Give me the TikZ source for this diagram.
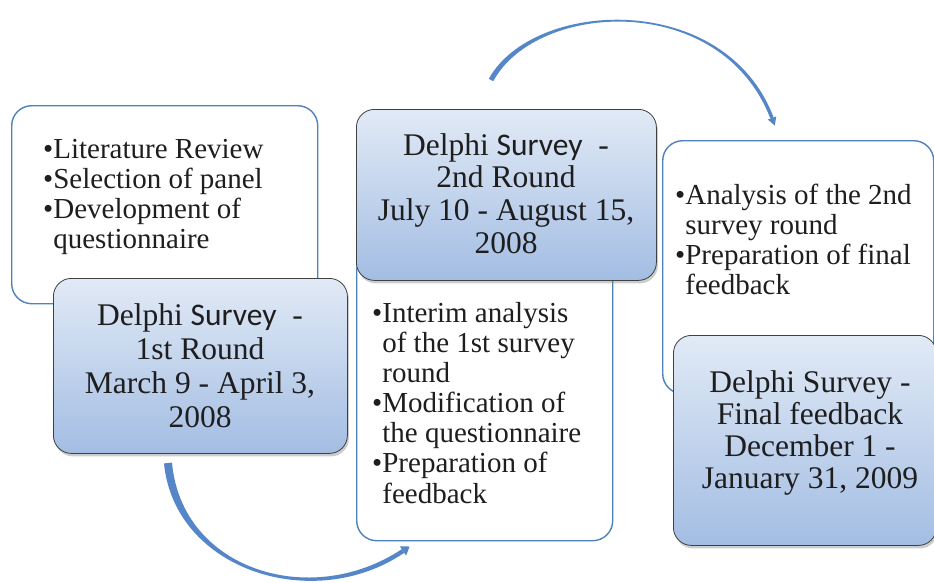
\documentclass[tikz,border=0pt]{standalone}
\usepackage{fontspec}
\setmainfont{Liberation Serif}
\newfontfamily\surveyfont{Carlito}
\usetikzlibrary{shadows}
\definecolor{frameblue}{RGB}{79,129,189}
\definecolor{arcblue}{RGB}{84,134,200}
\definecolor{panetop}{RGB}{225,234,246}
\definecolor{panebottom}{RGB}{163,189,227}
\definecolor{paneedge}{RGB}{64,64,64}
\definecolor{ink}{RGB}{30,30,30}
\begin{document}
\begin{tikzpicture}[x=1pt,y=-1pt,
  notebox/.style={draw=frameblue, line width=1.4pt, fill=white,
    rounded corners=20pt, inner sep=0pt, anchor=north west},
  datebox/.style={draw=paneedge, line width=0.8pt,
    top color=panetop, bottom color=panebottom,
    rounded corners=18pt, inner sep=0pt, anchor=north west,
    drop shadow={shadow xshift=1.5pt, shadow yshift=-3pt, opacity=0.4}},
  bullets/.style={font=\fontsize{29}{30.3}\selectfont, inner sep=0pt,
    anchor=base west, text=ink},
  dates/.style={font=\fontsize{31.5}{33}\selectfont, inner sep=0pt,
    anchor=base, text=ink},
  arcarrow/.style={fill=arcblue, draw=none}
]
\fill[white] (0,0) rectangle (934,582);
\useasboundingbox (0,0) rectangle (934,582);

% ---- stage 1 ----
\node[notebox, minimum width=306pt, minimum height=198pt] (prepbox) at (11,105) {};
\node[bullets] (preptext) at (43,158) {\begin{tabular}[t]{@{}l@{}}
  •Literature Review\\
  •Selection of panel\\
  •Development of\\
  \hphantom{•}questionnaire\end{tabular}};
\node[datebox, minimum width=294pt, minimum height=175pt] (roundone) at (53,278) {};
\node[dates, font=\fontsize{31.5}{34}\selectfont] (roundonetext) at (200,325) {\begin{tabular}[t]{@{}c@{}}
  Delphi {\surveyfont Survey}\ \ -\\
  1st Round\\
  March 9 - April 3,\\
  2008\end{tabular}};

% ---- stage 2 ----
\node[notebox, minimum width=256pt, minimum height=290pt] (interimbox) at (356,250) {};
\node[bullets, font=\fontsize{29}{30.17}\selectfont] (interimtext) at (372,322) {\begin{tabular}[t]{@{}l@{}}
  •Interim analysis\\
  \hphantom{•}of the 1st survey\\
  \hphantom{•}round\\
  •Modification of\\
  \hphantom{•}the questionnaire\\
  •Preparation of\\
  \hphantom{•}feedback\end{tabular}};
\node[datebox, minimum width=300pt, minimum height=171pt] (roundtwo) at (356,109) {};
\node[dates, font=\fontsize{31.5}{32.7}\selectfont] (roundtwotext) at (506,155) {\begin{tabular}[t]{@{}c@{}}
  Delphi {\surveyfont Survey}\ \ -\\
  2nd Round\\
  July 10 - August 15,\\
  2008\end{tabular}};

% ---- stage 3 ----
\node[notebox, minimum width=271pt, minimum height=253pt] (finalprep) at (662,140) {};
\node[bullets, font=\fontsize{29}{30}\selectfont] (finalpreptext) at (675,204) {\begin{tabular}[t]{@{}l@{}}
  •Analysis of the 2nd\\
  \hphantom{•}survey round\\
  •Preparation of final\\
  \hphantom{•}feedback\end{tabular}};
\node[datebox, minimum width=263pt, minimum height=210pt] (finalround) at (673,335) {};
\node[dates, font=\fontsize{31.5}{32}\selectfont] (finalroundtext) at (810,392) {\begin{tabular}[t]{@{}c@{}}
  Delphi Survey -\\
  Final feedback\\
  December 1 -\\
  January 31, 2009\end{tabular}};

% ---- curved arrows ----
% lower sweep from stage 1 to stage 2
\fill[arcarrow] (164,463.4) .. controls (174.5,570.3) and (313.6,614.3) .. (404.2,552.8)
  -- (401.8,549.2) .. controls (310.4,609.7) and (181.5,569.7) .. (172,462.6) -- cycle;
\fill[arcarrow] (409.6,546.5) -- (399.9,546.4) -- (406.1,555.6) -- cycle;
% upper sweep from stage 2 to stage 3
\fill[arcarrow] (488.8,78.8) .. controls (533,-1.1) and (724.9,-10.7) .. (773.6,117.4)
  -- (770.4,118.6) .. controls (721.1,-9.3) and (537,1.1) .. (493.2,81.2) -- cycle;
\fill[arcarrow] (774.8,125.5) -- (776.2,116.4) -- (767.8,119.6) -- cycle;
\end{tikzpicture}
\end{document}
